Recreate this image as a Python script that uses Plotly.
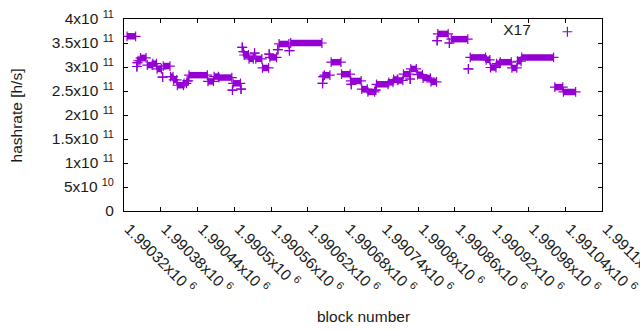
import plotly.graph_objects as go

# runs of consecutive blocks sharing the same hashrate estimate
run_start = [1990325, 1990341, 1990342, 1990343, 1990347, 1990358, 1990367, 1990374, 1990383, 1990384,
             1990396, 1990401, 1990407, 1990418, 1990423, 1990426, 1990457, 1990467, 1990475, 1990497,
             1990498, 1990511, 1990513, 1990515, 1990516, 1990524, 1990533, 1990535, 1990546, 1990557,
             1990558, 1990571, 1990573, 1990590, 1990592, 1990644, 1990645, 1990647, 1990658, 1990675,
             1990690, 1990691, 1990708, 1990718, 1990730, 1990732, 1990752, 1990760, 1990767, 1990776,
             1990787, 1990788, 1990799, 1990808, 1990821, 1990831, 1990832, 1990851, 1990854, 1990882,
             1990885, 1990911, 1990918, 1990928, 1990934, 1990953, 1990962, 1990969, 1991023, 1991037]
run_end = [1990339, 1990341, 1990342, 1990346, 1990356, 1990366, 1990373, 1990381, 1990383, 1990395,
           1990400, 1990406, 1990417, 1990422, 1990425, 1990456, 1990466, 1990474, 1990496, 1990497,
           1990510, 1990511, 1990513, 1990515, 1990523, 1990531, 1990533, 1990545, 1990556, 1990557,
           1990569, 1990571, 1990589, 1990590, 1990643, 1990644, 1990645, 1990656, 1990674, 1990689,
           1990707, 1990691, 1990717, 1990729, 1990731, 1990751, 1990759, 1990766, 1990775, 1990786,
           1990787, 1990797, 1990807, 1990820, 1990830, 1990831, 1990849, 1990851, 1990881, 1990882,
           1990910, 1990917, 1990927, 1990933, 1990952, 1990961, 1990968, 1991021, 1991036, 1991057]
run_hash = [3.64e11, 3.01e11, 3.09e11, 3.13e11, 3.19e11, 3.04e11, 3.07e11, 2.96e11, 2.79e11, 3.02e11,
            2.80e11, 2.73e11, 2.62e11, 2.66e11, 2.71e11, 2.83e11, 2.70e11, 2.80e11, 2.78e11, 2.52e11,
            2.66e11, 2.54e11, 3.41e11, 3.32e11, 3.25e11, 3.17e11, 3.29e11, 3.17e11, 2.98e11, 3.27e11,
            3.20e11, 3.36e11, 3.48e11, 3.34e11, 3.50e11, 2.66e11, 2.80e11, 2.83e11, 3.10e11, 2.85e11,
            2.71e11, 2.64e11, 2.54e11, 2.48e11, 2.52e11, 2.64e11, 2.68e11, 2.74e11, 2.72e11, 2.85e11,
            2.75e11, 2.96e11, 2.84e11, 2.77e11, 2.69e11, 3.55e11, 3.69e11, 3.50e11, 3.58e11, 2.96e11,
            3.20e11, 3.15e11, 2.99e11, 3.07e11, 3.10e11, 2.98e11, 3.12e11, 3.20e11, 2.58e11, 2.48e11]

series_name = "X17"

x_tick_vals = [1990320, 1990380, 1990440, 1990500, 1990560, 1990620, 1990680,
               1990740, 1990800, 1990860, 1990920, 1990980, 1991040, 1991100]
x_tick_text = ["1.99032x10 <sup>6</sup>", "1.99038x10 <sup>6</sup>", "1.99044x10 <sup>6</sup>",
               "1.9905x10 <sup>6</sup>", "1.99056x10 <sup>6</sup>", "1.99062x10 <sup>6</sup>",
               "1.99068x10 <sup>6</sup>", "1.99074x10 <sup>6</sup>", "1.9908x10 <sup>6</sup>",
               "1.99086x10 <sup>6</sup>", "1.99092x10 <sup>6</sup>", "1.99098x10 <sup>6</sup>",
               "1.99104x10 <sup>6</sup>", "1.9911x10 <sup>6</sup>"]
y_tick_vals = [0, 5e10, 1e11, 1.5e11, 2e11, 2.5e11, 3e11, 3.5e11, 4e11]
y_tick_text = ["0", "5x10 <sup>10</sup>", "1x10 <sup>11</sup>", "1.5x10 <sup>11</sup>",
               "2x10 <sup>11</sup>", "2.5x10 <sup>11</sup>", "3x10 <sup>11</sup>",
               "3.5x10 <sup>11</sup>", "4x10 <sup>11</sup>"]

COLOR = "#9400D3"
FONT = dict(family="Liberation Sans, Arial, sans-serif", size=15.5, color="#1a1a1a")

# solid bands for multi-block runs
seg_x, seg_y = [], []
for s, e, v in zip(run_start, run_end, run_hash):
    if e > s:
        seg_x += [s, e, None]
        seg_y += [v, v, None]

fig = go.Figure()
fig.add_trace(go.Scatter(x=seg_x, y=seg_y, mode="lines",
                         line=dict(color=COLOR, width=6.5), showlegend=False, hoverinfo="skip"))
fig.add_trace(go.Scatter(x=run_start + run_end, y=run_hash + run_hash, mode="markers",
                         marker=dict(symbol="cross-thin", size=7, color=COLOR,
                                     line=dict(color=COLOR, width=1.2)),
                         name=" ", showlegend=True))

axis_common = dict(showline=True, linecolor="black", linewidth=1, mirror="allticks",
                   ticks="inside", ticklen=4, tickcolor="black", showgrid=False,
                   zeroline=False, tickfont=FONT, automargin=False)
fig.update_xaxes(range=[1990320, 1991100], tickmode="array", tickvals=x_tick_vals,
                 ticktext=x_tick_text, tickangle=45, ticklabeloverflow="allow",
                 ticklabelshift=5, ticklabelstandoff=2, **axis_common)
fig.update_yaxes(range=[0, 4e11], tickmode="array", tickvals=y_tick_vals,
                 ticktext=y_tick_text, ticklabelstandoff=6, **axis_common)

fig.add_annotation(text="block number", xref="paper", yref="paper", x=0.5, y=-0.55,
                   xanchor="center", yanchor="middle", showarrow=False, font=FONT)
fig.add_annotation(text="hashrate [h/s]", xref="paper", yref="paper", x=-0.225, y=0.5,
                   xanchor="center", yanchor="middle", textangle=-90, showarrow=False, font=FONT)

fig.update_layout(width=640, height=330, margin=dict(l=124, r=38, t=19, b=119),
                  paper_bgcolor="white", plot_bgcolor="white", font=FONT,
                  legend=dict(title=dict(text=series_name + "&nbsp;&nbsp;", side="left", font=FONT),
                              x=0.99, y=1.02, xanchor="right", yanchor="top",
                              bgcolor="rgba(0,0,0,0)", font=FONT, itemwidth=30))
fig.write_html("out.html", config={"displayModeBar": False},
               post_script="document.body.style.margin='0';document.body.style.overflow='hidden';")
